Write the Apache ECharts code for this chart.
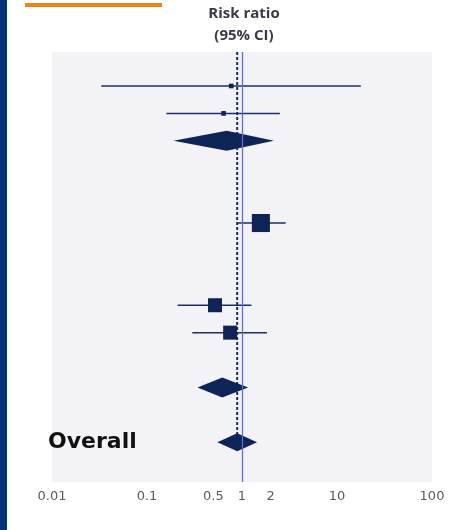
<!DOCTYPE html>
<html>
<head>
<meta charset="utf-8">
<script src="https://cdn.jsdelivr.net/npm/echarts@6/dist/echarts.min.js"></script>
<style>
  html, body { margin: 0; padding: 0; background: #ffffff; }
  #chart { width: 474px; height: 530px; }
</style>
</head>
<body>
<div id="chart"></div>
<script>
// Forest plot: risk ratios with 95% confidence intervals on a log scale
const rowPos    = [0, 1, 2, 5, 8, 9, 11, 13];
const estimate  = [0.77, 0.64, 0.69, 1.58, 0.52, 0.75, 0.62, 0.89];
const lowerCI   = [0.033, 0.16, 0.19, 0.885, 0.21, 0.30, 0.34, 0.55];
const upperCI   = [17.8, 2.5, 2.17, 2.88, 1.26, 1.83, 1.16, 1.44];
const markType  = ['square', 'square', 'diamond', 'square', 'square', 'square', 'diamond', 'diamond'];
const weight    = [2, 2, 0, 30, 18, 18, 0, 0];
const rowLabels = ['', '', '', '', '', '', '', 'Overall'];
const tickValues = [0.01, 0.1, 0.5, 1, 2, 10, 100];
const overallEstimate = estimate[estimate.length - 1];

const NAVY = '#0e2456';
const CI_COLOR = '#1c2e68';

const forestData = rowPos.map((r, i) => [r, estimate[i], lowerCI[i], upperCI[i], weight[i], markType[i] === 'diamond' ? 1 : 0, i]);

function renderForestRow(params, api) {
  const row = api.value(0);
  const est = api.coord([api.value(1), row]);
  const lo = api.coord([api.value(2), row]);
  const hi = api.coord([api.value(3), row]);
  const w = api.value(4);
  const isDiamond = api.value(5) === 1;
  const idx = api.value(6);
  const y = est[1];
  const children = [];
  if (isDiamond) {
    const h = idx === rowPos.length - 1 ? 9 : 10;
    children.push({
      type: 'polygon',
      shape: { points: [[lo[0], y], [est[0], y - h], [hi[0], y], [est[0], y + h]] },
      style: { fill: NAVY }
    });
  } else {
    children.push({
      type: 'line',
      shape: { x1: lo[0], y1: y, x2: hi[0], y2: y },
      style: { stroke: CI_COLOR, lineWidth: 1.5 }
    });
    const s = 3.3 * Math.sqrt(w);
    children.push({
      type: 'rect',
      shape: { x: est[0] - s / 2, y: y - s / 2, width: s, height: s },
      style: { fill: NAVY }
    });
  }
  const label = rowLabels[idx];
  if (label) {
    const left = api.coord([0.01, row])[0] - 4;
    children.push({
      type: 'text',
      style: {
        text: label, x: left, y: y,
        align: 'left', verticalAlign: 'middle',
        font: 'bold 22px "DejaVu Sans"', fill: '#111111'
      }
    });
  }
  return { type: 'group', children: children };
}

const chart = echarts.init(document.getElementById('chart'), null, { renderer: 'canvas' });

chart.setOption({
  animation: false,
  backgroundColor: '#ffffff',
  grid: {
    left: 52, right: 42, top: 52, height: 430,
    show: true, backgroundColor: '#f3f3f7', borderWidth: 0
  },
  xAxis: {
    type: 'log', logBase: 10, min: 0.01, max: 100,
    axisLine: { show: false }, axisTick: { show: false }, splitLine: { show: false },
    axisLabel: {
      customValues: tickValues,
      formatter: v => String(+Number(v).toPrecision(3)),
      color: '#5a5a5a', fontFamily: 'DejaVu Sans', fontSize: 13, margin: 8
    }
  },
  yAxis: {
    type: 'value', inverse: true, min: -1.24, max: 14.45, show: false
  },
  graphic: [
    { type: 'rect', shape: { x: 0, y: 0, width: 7, height: 530 }, style: { fill: '#003478' } },
    { type: 'rect', shape: { x: 25, y: 3, width: 137, height: 4 }, style: { fill: '#ef8414' } },
    {
      type: 'text', x: 244, y: 3,
      style: {
        text: 'Risk ratio\n(95% CI)', align: 'center', verticalAlign: 'top',
        font: 'bold 15px "Open Sans"', lineHeight: 22, fill: '#3a3b45'
      }
    }
  ],
  series: [
    {
      type: 'line',
      data: [[overallEstimate, -1.24], [overallEstimate, 12.8]],
      symbol: 'none', z: 1,
      lineStyle: { color: '#1a2a62', width: 2, type: [3, 2] },
      markLine: {
        silent: true, symbol: 'none', label: { show: false },
        lineStyle: { color: '#5f6fc4', width: 1.3, type: 'solid' },
        data: [{ xAxis: 1 }]
      }
    },
    {
      type: 'custom', z: 3,
      renderItem: renderForestRow,
      encode: { x: [1, 2, 3], y: 0 },
      data: forestData,
      clip: false
    }
  ]
});
</script>
</body>
</html>
